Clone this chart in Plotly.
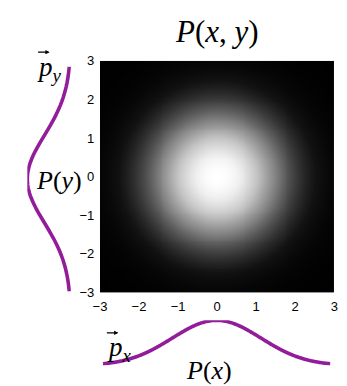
import numpy as np
import plotly.graph_objects as go

W, H = 347, 386

# Joint distribution of two independent Gaussians on a square grid
sigma = 1.17
grid = np.linspace(-3, 3, 241)
tick_vals = [-3, -2, -1, 0, 1, 2, 3]
tick_text = ["−3", "−2", "−1", "0", "1", "2", "3"]
xx, yy = np.meshgrid(grid, grid)
p_xy = np.exp(-(xx**2 + yy**2) / (2 * sigma**2))

# Marginals
curve_pts = np.linspace(-3, 3, 301)
p_marg = np.exp(-curve_pts**2 / (2 * sigma**2))

purple = "#921c99"

# gray ramp, close to linear with slightly lifted highlights
gray_scale = [
    [0.0, "rgb(0,0,0)"],
    [0.04, "rgb(6,6,6)"],
    [0.1, "rgb(18,18,18)"],
    [0.23, "rgb(60,60,60)"],
    [0.45, "rgb(130,130,130)"],
    [0.69, "rgb(196,196,196)"],
    [0.9, "rgb(240,240,240)"],
    [1.0, "rgb(255,255,255)"],
]


def px_x(v):
    return v / W


def px_y(v):
    return 1 - v / H


fig = go.Figure()

fig.add_trace(go.Heatmap(
    x=grid, y=grid, z=p_xy,
    colorscale=gray_scale,
    zmin=0, zmax=1, showscale=False, zsmooth="best",
    xaxis="x", yaxis="y", hoverinfo="skip",
))

# P(y) drawn vertically on the left
fig.add_trace(go.Scatter(
    x=p_marg, y=curve_pts, mode="lines",
    line=dict(color=purple, width=3.6, simplify=False),
    xaxis="x2", yaxis="y2", hoverinfo="skip",
))

# P(x) drawn under the map
fig.add_trace(go.Scatter(
    x=curve_pts, y=p_marg, mode="lines",
    line=dict(color=purple, width=3.6, simplify=False),
    xaxis="x3", yaxis="y3", hoverinfo="skip",
))

tick_font = dict(family="Liberation Sans, Arial, sans-serif", size=13, color="black")
hidden = dict(visible=False, showgrid=False, zeroline=False)

fig.update_layout(
    width=W, height=H,
    margin=dict(l=0, r=0, t=0, b=0),
    paper_bgcolor="white", plot_bgcolor="white",
    showlegend=False,
    xaxis=dict(domain=[px_x(96), px_x(338)], range=[-3, 3], anchor="y",
               tickvals=tick_vals, ticktext=tick_text, tickfont=tick_font,
               ticks="outside", ticklen=2, tickcolor="white",
               showgrid=False, zeroline=False, showline=False),
    yaxis=dict(domain=[px_y(297), px_y(56)], range=[-3, 3], anchor="x",
               tickvals=tick_vals, ticktext=tick_text, tickfont=tick_font,
               ticks="outside", ticklen=2, tickcolor="white",
               showgrid=False, zeroline=False, showline=False),
    xaxis2=dict(domain=[px_x(21), px_x(66)], range=[1, 0], anchor="y2", **hidden),
    yaxis2=dict(domain=[px_y(296), px_y(62)], range=[-3, 3], anchor="x2", **hidden),
    xaxis3=dict(domain=[px_x(99), px_x(334)], range=[-3, 3], anchor="y3", **hidden),
    yaxis3=dict(domain=[px_y(373), px_y(326)], range=[0, 1], anchor="x3", **hidden),
)

serif = "Liberation Serif, DejaVu Serif, serif"


def label(text, cx, cy, size):
    fig.add_annotation(
        text=text, x=px_x(cx), y=px_y(cy), xref="paper", yref="paper",
        showarrow=False, xanchor="center", yanchor="middle",
        font=dict(family=serif, size=size, color="black"),
    )


def vec_arrow(x0, x1, y):
    fig.add_annotation(
        text="", x=px_x(x1), y=px_y(y), ax=x0 - x1, ay=0,
        xref="paper", yref="paper", axref="pixel", ayref="pixel",
        showarrow=True, arrowhead=2, arrowsize=0.7, arrowwidth=1.2,
        arrowcolor="black", standoff=0, startstandoff=0,
    )


label("<i>P</i>(<i>x</i>, <i>y</i>)", 217, 25, 31)
label("<i>P</i>(<i>y</i>)", 54, 180, 26)
label("<i>P</i>(<i>x</i>)", 209, 378, 26)
label("<i>p</i><sub><i>y</i></sub>", 44, 64, 27)
label("<i>p</i><sub><i>x</i></sub>", 116, 356, 27)
vec_arrow(31, 44, 47)
vec_arrow(102, 115, 339)

fig.write_html("out.html")
